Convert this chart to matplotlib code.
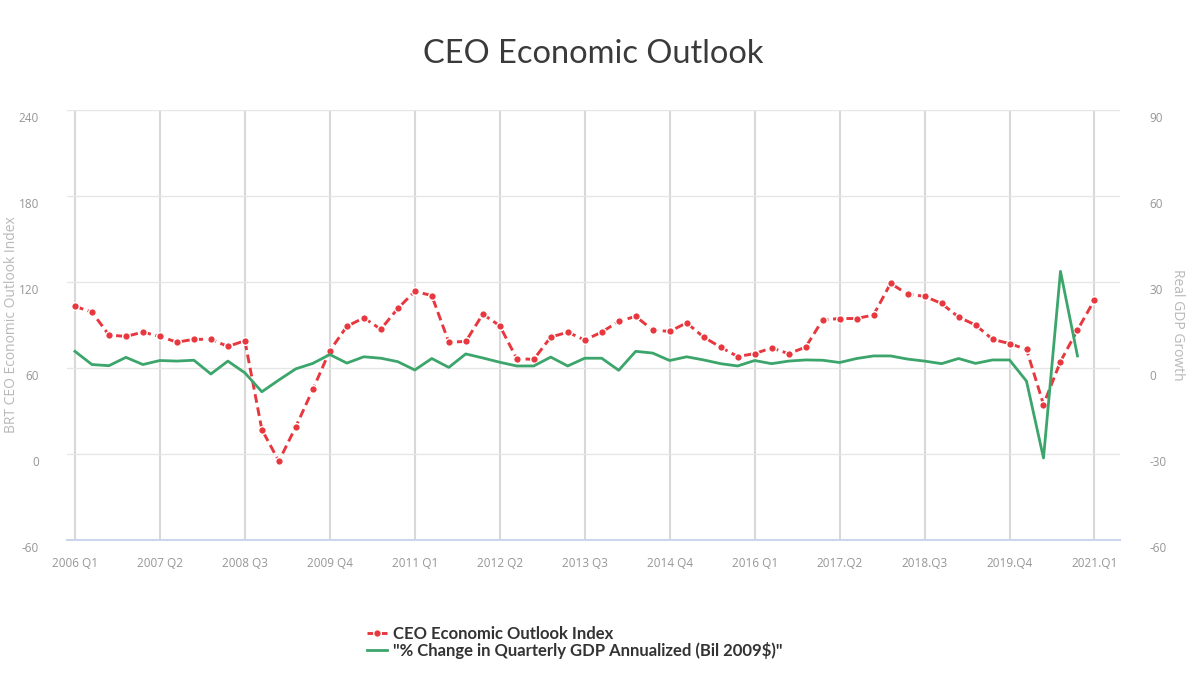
import numpy as np
import matplotlib.pyplot as plt
from matplotlib.transforms import ScaledTranslation

plt.rcParams['axes.unicode_minus'] = False

# quarterly categories 2006 Q1 .. 2021 Q1
quarters = [f'{y} Q{q}' for y in range(2006, 2022) for q in range(1, 5)][:61]

ceo_index = [103, 99, 83, 82, 85, 82, 78, 80, 80, 75,
             79, 17, -5, 19, 45, 72, 89, 95, 87, 101.5,
             113.5, 110.5, 78, 78.5, 97.5, 89.5, 66.5, 66, 81.5, 85,
             79.5, 85, 92.5, 96, 86.5, 85.5, 91.5, 81.5, 74.5, 68,
             70, 74, 70, 74.5, 93.5, 94.5, 94.5, 97, 119, 111.5,
             110, 105, 95.5, 90, 80, 77, 73, 34.5, 64.5, 86.5,
             107.5]

gdp_growth = [5.8, 1.2, 0.8, 3.7, 1.2, 2.6, 2.4, 2.7, -2.1, 2.4,
              -1.7, -8.3, -4.2, -0.3, 1.6, 4.7, 1.7, 3.9, 3.4, 2.2,
              -0.7, 3.3, 0.2, 4.9, 3.5, 2.0, 0.7, 0.7, 3.8, 0.7,
              3.4, 3.4, -0.8, 5.8, 5.2, 2.6, 3.9, 2.8, 1.5, 0.7,
              2.6, 1.5, 2.4, 2.8, 2.7, 1.9, 3.3, 4.2, 4.2, 3.1,
              2.4, 1.5, 3.3, 1.6, 2.8, 2.8, -4.6, -31.4, 33.7, 4.2]

tick_labels = ['2006 Q1', '2007 Q2', '2008 Q3', '2009 Q4', '2011 Q1', '2012 Q2',
               '2013 Q3', '2014 Q4', '2016 Q1', '2017.Q2', '2018.Q3', '2019.Q4',
               '2021.Q1']

red = '#e8383f'
green = '#3ba56b'
tick_col = '#969696'
title_col = '#b8b8b8'

fig = plt.figure(figsize=(12, 6.83), dpi=100)
ax = fig.add_axes([0.0558, 0.2094, 0.8775, 0.6296])
ax2 = ax.twinx()

x = np.arange(len(ceo_index))
x2 = np.arange(len(gdp_growth))

ax.plot(x, ceo_index, color=red, lw=2.1, dashes=(3, 1.6), marker='o',
        ms=5.5, mfc=red, mec='white', mew=1, zorder=3,
        label='CEO Economic Outlook Index')
ax2.plot(x2, gdp_growth, color=green, lw=2.0, zorder=3,
         label='"% Change in Quarterly GDP Annualized (Bil 2009$)"')

ax.set_xlim(-0.47, 61.5)
ax.set_ylim(-60, 240)
ax2.set_ylim(-60, 90)
ax.set_yticks(np.arange(-60, 241, 60))
ax2.set_yticks(np.arange(-60, 91, 30))
ax.set_xticks(np.arange(0, 61, 5))
ax.set_xticklabels(tick_labels)

ax.grid(axis='y', color='#e6e6e6', lw=1)
ax.grid(axis='x', color='#d8d8d8', lw=1.5)
ax.set_axisbelow(True)

for a in (ax, ax2):
    for s in a.spines.values():
        s.set_visible(False)
    a.tick_params(length=0, colors=tick_col, labelsize=8.5)
ax.spines['bottom'].set_visible(True)
ax.spines['bottom'].set_color('#ccd6eb')
ax.spines['bottom'].set_linewidth(1.5)

ax.tick_params(axis='y', pad=20)
ax2.tick_params(axis='y', pad=21)
ax.tick_params(axis='x', pad=12)
for lab in ax.get_yticklabels() + ax2.get_yticklabels():
    lab.set_transform(lab.get_transform() + ScaledTranslation(0, -5 / 72, fig.dpi_scale_trans))
    lab.set_fontfamily('Open Sans')
for lab in ax.get_xticklabels():
    lab.set_fontfamily('Open Sans')

ax.set_ylabel('BRT CEO Economic Outlook Index', color=title_col, fontsize=10,
              family='Open Sans', va='center')
ax.yaxis.set_label_coords(-0.053, 0.5)
ax2.set_ylabel('Real GDP Growth', color=title_col, fontsize=10,
               family='Open Sans', rotation=270, va='center')
ax2.yaxis.set_label_coords(1.055, 0.5)

fig.text(593 / 1200, 1 - 54 / 683, 'CEO Economic Outlook', ha='center', va='center',
         fontsize=23.5, color='#3a3a3a', family='Lato')

h1, l1 = ax.get_legend_handles_labels()
h2, l2 = ax2.get_legend_handles_labels()
leg = fig.legend(h1 + h2, l1 + l2, loc='upper left',
                 bbox_to_anchor=(0.293, 1 - 611 / 683),
                 frameon=False, handlelength=1.25, handletextpad=0.35, labelspacing=0.0,
                 prop={'family': 'Lato', 'weight': 'bold', 'size': 12})
for t in leg.get_texts():
    t.set_color('#333333')

fig.savefig('out.png', dpi=100)
